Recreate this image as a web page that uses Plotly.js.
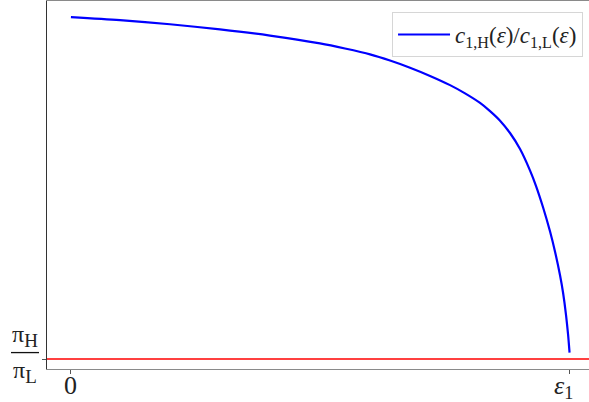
<!DOCTYPE html>
<html>
<head>
<meta charset="utf-8">
<script src="https://cdn.plot.ly/plotly-3.0.1.min.js"></script>
<style>html,body{margin:0;padding:0;background:#fff;}#chart{width:589px;height:402px;}</style>
</head>
<body>
<div id="chart"></div>
<script>
// epsilon / epsilon_1
const epsilon = [0, 0.0983, 0.1986, 0.2989, 0.3992, 0.4995, 0.5496, 0.5998, 0.6399, 0.6800, 0.7202, 0.7603, 0.7904, 0.8205, 0.8405, 0.8606, 0.8806, 0.9007, 0.9208, 0.9328, 0.9468, 0.9609, 0.9709, 0.9809, 0.9870, 0.9930, 0.9970, 1.0];
// c_{1,H}(eps)/c_{1,L}(eps), in units where pi_H/pi_L = 1
const ratio = [2.000, 1.991, 1.979, 1.964, 1.946, 1.923, 1.908, 1.891, 1.873, 1.852, 1.828, 1.801, 1.777, 1.749, 1.725, 1.697, 1.661, 1.614, 1.551, 1.506, 1.444, 1.373, 1.314, 1.245, 1.194, 1.128, 1.072, 1.019];
const piRatio = 1.0;
const xTickVals = [0, 1];
const xTickText = ['0', '<i>ε</i><sub>1</sub>'];
const xTickShift = [0, -6];
const seriesName = '<i>c</i><sub>1,H</sub>(<i>ε</i>)/<i>c</i><sub>1,L</sub>(<i>ε</i>)';

const serif = 'Liberation Serif, DejaVu Serif, serif';

const traces = [{
  x: epsilon, y: ratio, type: 'scatter', mode: 'lines',
  line: {color: '#0000ff', width: 2.2, shape: 'spline', smoothing: 0.8},
  name: seriesName
}];

const annotations = xTickVals.map((v, i) => ({
  xref: 'x', yref: 'paper', x: v, y: 0, text: xTickText[i], showarrow: false,
  xanchor: 'center', yanchor: 'top', yshift: 0, xshift: xTickShift[i],
  font: {family: serif, size: 26, color: '#222'}
}));
annotations.push(
  {xref: 'paper', yref: 'y', x: 0, y: piRatio, text: 'π<sub><span style="font-size:19px">H</span></sub>', showarrow: false,
   xanchor: 'center', yanchor: 'bottom', xshift: -22, yshift: 6, font: {family: serif, size: 24, color: '#222'}},
  {xref: 'paper', yref: 'y', x: 0, y: piRatio, text: 'π<sub><span style="font-size:19px">L</span></sub>', showarrow: false,
   xanchor: 'center', yanchor: 'top', xshift: -22, yshift: 4, font: {family: serif, size: 24, color: '#222'}}
);

const layout = {
  width: 589, height: 402,
  margin: {l: 47, r: 0, t: 1, b: 33},
  paper_bgcolor: '#fff', plot_bgcolor: '#fff',
  showlegend: true,
  legend: {
    x: 0.989, y: 0.970, xanchor: 'right', yanchor: 'top',
    bgcolor: '#fff', bordercolor: '#d6d6d6', borderwidth: 1,
    itemwidth: 52,
    font: {family: serif, size: 23, color: '#222'}
  },
  xaxis: {
    range: [-0.048, 1.039], showgrid: false, zeroline: false,
    showline: true, mirror: true, linecolor: '#8a8a8a', linewidth: 1.2,
    tickvals: xTickVals, showticklabels: false,
    ticks: 'outside', ticklen: 4, tickcolor: '#555', tickwidth: 1
  },
  yaxis: {
    range: [0.971, 2.047], showgrid: false, zeroline: false,
    showline: true, mirror: false, linecolor: '#333', linewidth: 1.2,
    tickvals: [piRatio], showticklabels: false,
    ticks: 'outside', ticklen: 4, tickcolor: '#555', tickwidth: 1
  },
  shapes: [
    {type: 'line', xref: 'paper', yref: 'y', x0: 0, x1: 1, y0: piRatio, y1: piRatio,
     line: {color: '#ff0000', width: 1.5}},
    {type: 'line', xref: 'paper', xsizemode: 'pixel', xanchor: 0, x0: -36, x1: -8,
     yref: 'y', ysizemode: 'pixel', yanchor: piRatio, y0: 6.5, y1: 6.5,
     line: {color: '#111', width: 1.3}}
  ],
  annotations: annotations
};

Plotly.newPlot('chart', traces, layout, {displayModeBar: false, staticPlot: true});
</script>
</body>
</html>
